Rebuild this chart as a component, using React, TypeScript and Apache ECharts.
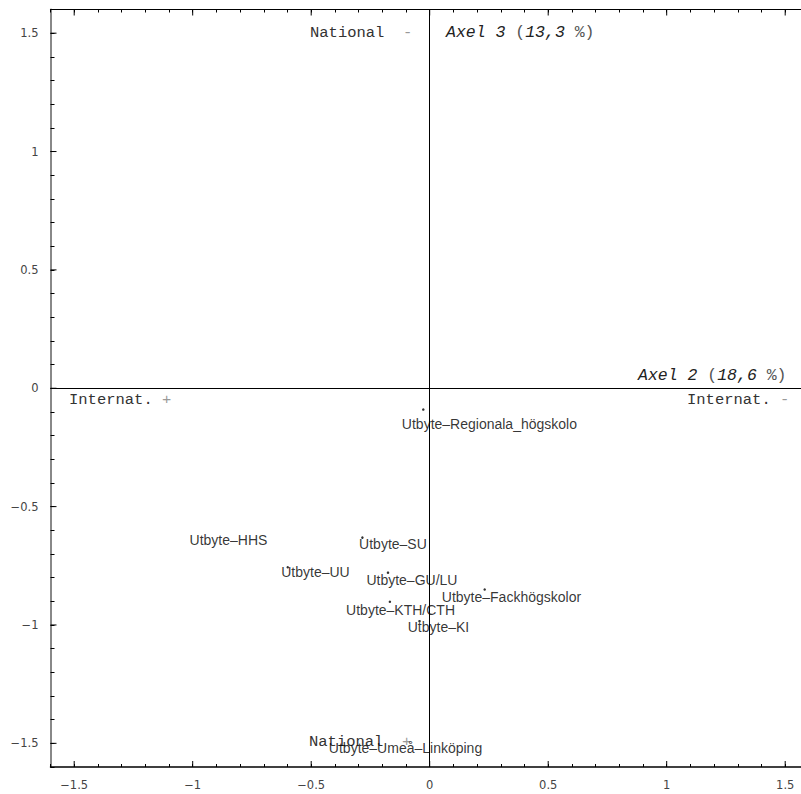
import React, { useEffect, useRef } from "react";
import * as echarts from "echarts";

const X_MIN = -1.6;
const X_MAX = 1.6;
const Y_MIN = -1.6;
const Y_MAX = 1.6;
const MINOR_STEP = 0.1;
const majorTicks = [-1.5, -1, -0.5, 0, 0.5, 1, 1.5];

const pointNames = [
  "Utbyte–Regionala_högskolo",
  "Utbyte–HHS",
  "Utbyte–SU",
  "Utbyte–UU",
  "Utbyte–GU/LU",
  "Utbyte–Fackhögskolor",
  "Utbyte–KTH/CTH",
  "Utbyte–KI",
  "Utbyte–Umeå–Linköping",
];
const labelX = [0.252, -0.849, -0.155, -0.482, -0.075, 0.345, -0.123, 0.037, -0.102];
const labelY = [-0.149, -0.643, -0.656, -0.778, -0.811, -0.883, -0.938, -1.01, -1.52];

const dotX = [-0.027, -0.284, -0.599, -0.176, -0.168, 0.232, -0.043];
const dotY = [-0.09, -0.631, -0.756, -0.779, -0.902, -0.85, -0.984];

const fmt = (v: number) => {
  if (Math.abs(v * 2 - Math.round(v * 2)) > 1e-6) return "";
  const r = Math.round(v * 2) / 2;
  const s = String(Math.abs(r));
  return r < 0 ? "\u2212" + s : s;
};

const mono = "'Liberation Mono', 'Courier New', monospace";

const plainRich = (size: number) => ({
  a: { fontFamily: mono, fontSize: size, fill: "#333" },
  b: { fontFamily: mono, fontSize: size, fill: "#999" },
});
const axelRich = (size: number) => ({
  a: { fontFamily: mono, fontSize: size, fontStyle: "italic", fill: "#222" },
  b: { fontFamily: mono, fontSize: size, fill: "#555" },
});

export default function App() {
  const ref = useRef<HTMLDivElement>(null);
  useEffect(() => {
    if (!ref.current) return;
    const chart = echarts.init(ref.current, null, { renderer: "svg" });
    const labelData = pointNames.map((n, i) => [labelX[i], labelY[i], n]);
    const dotData = dotX.map((x, i) => [x, dotY[i]]);
    const tickLabel = {
      fontFamily: "'DejaVu Sans', sans-serif",
      fontSize: 11.5,
      color: "#444",
      margin: 12,
      formatter: fmt,
    };
    chart.setOption({
      animation: false,
      backgroundColor: "#fff",
      textStyle: { fontFamily: mono, fontSize: 15.5 },
      grid: { left: 50.5, top: 9.5, width: 758.4, height: 757.5, containLabel: false },
      xAxis: [
        {
          type: "value",
          position: "bottom",
          min: X_MIN,
          max: X_MAX,
          interval: MINOR_STEP,
          axisLine: { show: true, onZero: false, lineStyle: { color: "#000", width: 1.5 } },
          axisTick: { show: true, inside: true, length: 3, lineStyle: { color: "#000" } },
          axisLabel: tickLabel,
          splitLine: { show: false },
        },
        {
          type: "value",
          position: "top",
          min: X_MIN,
          max: X_MAX,
          interval: MINOR_STEP,
          axisLine: { show: true, onZero: false, lineStyle: { color: "#000", width: 1 } },
          axisTick: { show: true, inside: true, length: 3, lineStyle: { color: "#000" } },
          axisLabel: { show: false },
          splitLine: { show: false },
        },
      ],
      yAxis: [
        {
          type: "value",
          position: "left",
          min: Y_MIN,
          max: Y_MAX,
          interval: MINOR_STEP,
          axisLine: { show: true, onZero: false, lineStyle: { color: "#888", width: 2 } },
          axisTick: { show: true, inside: true, length: 4, lineStyle: { color: "#000" } },
          axisLabel: tickLabel,
          splitLine: { show: false },
        },
      ],
      graphic: [
        {
          type: "text",
          left: 310,
          top: 25,
          style: { text: "{a|National  }{b|-}", rich: plainRich(15.5) },
        },
        {
          type: "text",
          left: 446,
          top: 24,
          style: { text: "{a|Axel 3 }{b|(}{a|13,3 }{b|%)}", rich: axelRich(16.5) },
        },
        {
          type: "text",
          left: 638,
          top: 367,
          style: { text: "{a|Axel 2 }{b|(}{a|18,6 }{b|%)}", rich: axelRich(16.5) },
        },
        {
          type: "text",
          left: 687,
          top: 392,
          style: { text: "{a|Internat. }{b|-}", rich: plainRich(15.5) },
        },
        {
          type: "text",
          left: 69,
          top: 392,
          style: { text: "{a|Internat. }{b|+}", rich: plainRich(15.5) },
        },
        {
          type: "text",
          left: 309,
          top: 734,
          style: { text: "{a|National  }{b|+}", rich: plainRich(15.5) },
        },
      ],
      series: [
        {
          type: "custom",
          xAxisIndex: 0,
          yAxisIndex: 0,
          silent: true,
          clip: false,
          data: majorTicks.map((v) => [v, 0]),
          renderItem: (params: any, api: any) => {
            const v = api.value(0);
            const b = api.coord([v, Y_MIN]);
            const t = api.coord([v, Y_MAX]);
            return {
              type: "group",
              children: [
                { type: "line", shape: { x1: b[0], y1: b[1], x2: b[0], y2: b[1] - 6 }, style: { stroke: "#000", lineWidth: 1 } },
                { type: "line", shape: { x1: t[0], y1: t[1], x2: t[0], y2: t[1] + 6 }, style: { stroke: "#000", lineWidth: 1 } },
              ],
            };
          },
        },
        {
          type: "custom",
          xAxisIndex: 0,
          yAxisIndex: 0,
          silent: true,
          clip: false,
          data: majorTicks.map((v) => [0, v]),
          renderItem: (params: any, api: any) => {
            const v = api.value(1);
            const l = api.coord([X_MIN, v]);
            return {
              type: "line",
              shape: { x1: l[0], y1: l[1], x2: l[0] + 6, y2: l[1] },
              style: { stroke: "#000", lineWidth: 1 },
            };
          },
        },
        {
          type: "scatter",
          xAxisIndex: 0,
          yAxisIndex: 0,
          symbolSize: 1,
          itemStyle: { color: "rgba(0,0,0,0)" },
          data: labelData,
          label: {
            show: true,
            position: "inside",
            formatter: (p: any) => p.data[2],
            fontFamily: "'Liberation Sans', Arial, sans-serif",
            fontSize: 14,
            color: "#000",
          },
          markLine: {
            silent: true,
            symbol: ["none", "none"],
            label: { show: false },
            lineStyle: { color: "#000", width: 1, type: "solid" },
            data: [{ xAxis: 0 }, { yAxis: 0 }],
          },
          z: 3,
        },
        {
          type: "scatter",
          xAxisIndex: 0,
          yAxisIndex: 0,
          symbol: "circle",
          symbolSize: 2.5,
          itemStyle: { color: "#000" },
          data: dotData,
          z: 4,
        },
      ],
    });
    return () => chart.dispose();
  }, []);
  return (
    <div
      style={{ position: "fixed", left: 0, top: 0, width: 801, height: 794, overflow: "hidden", background: "#fff" }}
    >
      <div ref={ref} style={{ width: 812, height: 794 }} />
    </div>
  );
}
